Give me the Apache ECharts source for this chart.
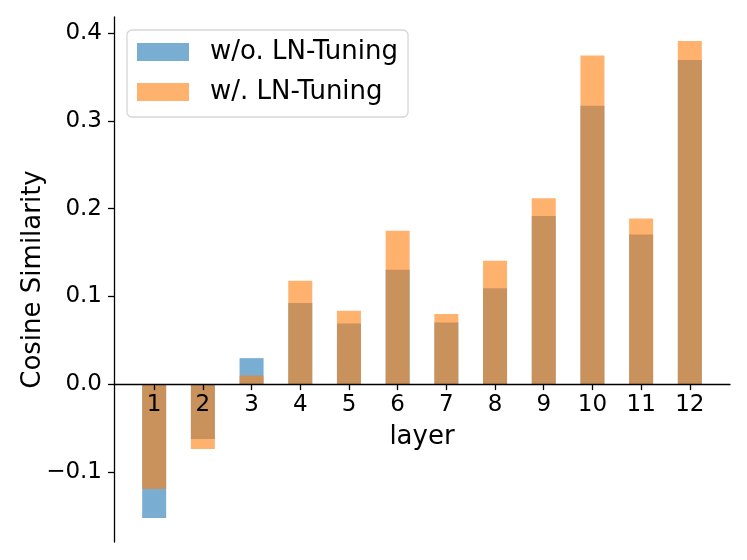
<!DOCTYPE html>
<html><head><meta charset="utf-8">
<script src="https://cdn.jsdelivr.net/npm/echarts@6/dist/echarts.min.js"></script>
<style>html,body{margin:0;padding:0;background:#fff}#c{width:747px;height:560px}</style>
</head><body><div id="c"></div>
<script>
const layers = [1, 2, 3, 4, 5, 6, 7, 8, 9, 10, 11, 12];
const withoutLN = [-0.1527, -0.0627, 0.0296, 0.0926, 0.0690, 0.1303, 0.0702, 0.1094, 0.1915, 0.3172, 0.1705, 0.3696];
const withLN = [-0.1197, -0.0741, 0.0098, 0.1177, 0.0835, 0.1747, 0.0798, 0.1405, 0.2120, 0.3745, 0.1887, 0.3912];
const yTicks = [-0.1, 0.0, 0.1, 0.2, 0.3, 0.4];
const seriesNames = ['w/o. LN-Tuning', 'w/. LN-Tuning'];
const FONT = 'DejaVu Sans';

const Y_MIN = -0.18, Y_MAX = 0.4185;
const GRID_TOP = 17, GRID_BOTTOM = 18, H = 560;
const gridH = H - GRID_TOP - GRID_BOTTOM;
// move the x axis (line, ticks, labels, name) up to y = 0
const zeroOffset = -(gridH * (0 - Y_MIN) / (Y_MAX - Y_MIN));

const chart = echarts.init(document.getElementById('c'), null, {renderer: 'canvas'});
const fmtY = v => (v < 0 ? '\u2212' : '') + Math.abs(v).toFixed(1);

chart.setOption({
  animation: false,
  backgroundColor: '#ffffff',
  grid: {left: 114, right: 17, top: GRID_TOP, bottom: GRID_BOTTOM, containLabel: false, outerBoundsMode: 'none'},
  legend: {
    orient: 'vertical',
    left: 127, top: 30,
    data: seriesNames,
    icon: 'rect',
    itemWidth: 52, itemHeight: 18,
    itemGap: 14,
    padding: [9, 10, 12, 10],
    borderColor: '#d6d6d6', borderWidth: 1.3, borderRadius: 5,
    backgroundColor: '#ffffff',
    textStyle: {fontFamily: FONT, fontSize: 26, color: '#000', lineHeight: 24, padding: [0, 0, 0, 16]}
  },
  xAxis: {
    type: 'value',
    min: 0.175, max: 12.825,
    z: 10,
    offset: zeroOffset,
    name: 'layer',
    nameLocation: 'middle',
    nameGap: 40,
    nameMoveOverlap: false,
    nameTextStyle: {fontFamily: FONT, fontSize: 26, color: '#000'},
    axisLine: {onZero: false, lineStyle: {color: '#000', width: 1.3}},
    axisTick: {show: true, length: 6, lineStyle: {color: '#000', width: 1.3}, customValues: layers},
    axisLabel: {customValues: layers, fontFamily: FONT, fontSize: 23, color: '#000', margin: 9, formatter: v => String(Math.round(v))},
    splitLine: {show: false}
  },
  yAxis: {
    type: 'value',
    min: Y_MIN, max: Y_MAX,
    z: 10,
    name: 'Cosine Similarity',
    nameLocation: 'middle',
    nameGap: 68,
    nameMoveOverlap: false,
    nameRotate: 90,
    nameTextStyle: {fontFamily: FONT, fontSize: 26, color: '#000'},
    axisLine: {show: true, onZero: false, lineStyle: {color: '#000', width: 1.3}},
    axisTick: {show: true, length: 6, lineStyle: {color: '#000', width: 1.3}, customValues: yTicks},
    axisLabel: {customValues: yTicks, fontFamily: FONT, fontSize: 23, color: '#000', margin: 12, formatter: fmtY},
    splitLine: {show: false}
  },
  series: [
    {
      name: seriesNames[0], type: 'bar',
      data: layers.map((l, i) => [l, withoutLN[i]]),
      barWidth: 24, barGap: '-100%',
      itemStyle: {color: 'rgba(31,119,180,0.6)'}
    },
    {
      name: seriesNames[1], type: 'bar',
      data: layers.map((l, i) => [l, withLN[i]]),
      barWidth: 24, barGap: '-100%',
      itemStyle: {color: 'rgba(255,127,14,0.6)'}
    }
  ]
});
</script></body></html>
